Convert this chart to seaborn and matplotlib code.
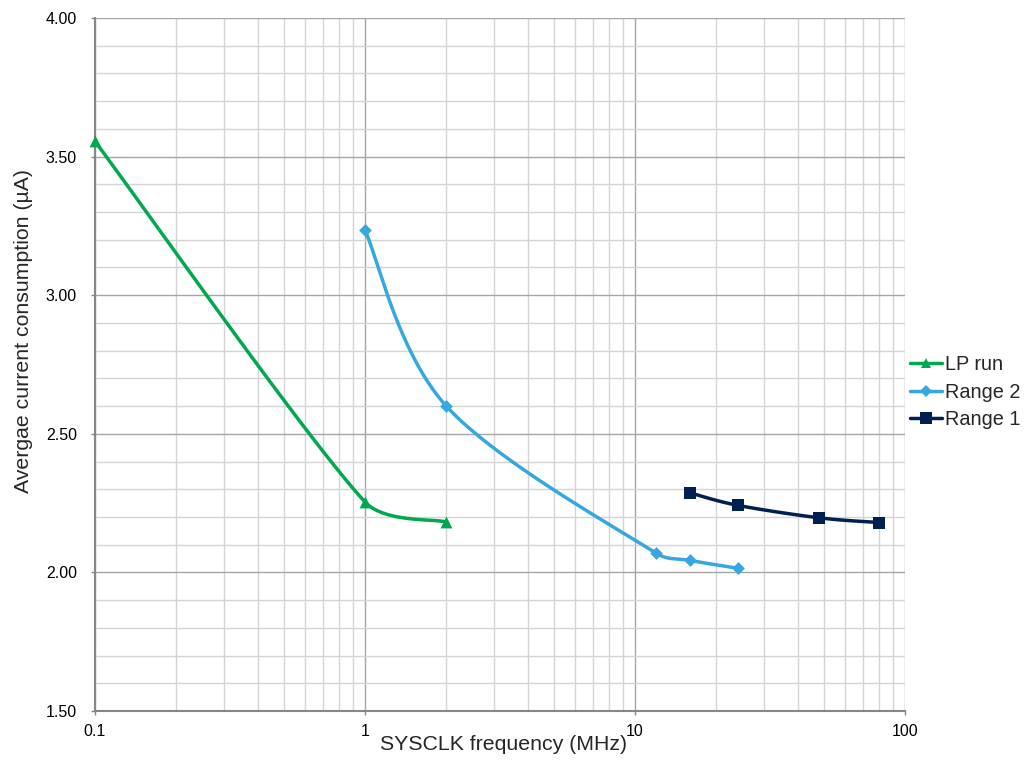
import numpy as np
import pandas as pd
import matplotlib
matplotlib.use("Agg")
import matplotlib.pyplot as plt
from matplotlib.lines import Line2D
from matplotlib.ticker import LogLocator, FixedLocator, NullFormatter, FuncFormatter
import seaborn as sns

# ---- data ----
lp_x = [0.1, 1, 2]
lp_y = [3.555, 2.254, 2.182]
r2_x = [1, 2, 12, 16, 24]
r2_y = [3.234, 2.60, 2.069, 2.043, 2.015]
r1_x = [16, 24, 48, 80]
r1_y = [2.287, 2.242, 2.197, 2.180]
series_names = ["LP run", "Range 2", "Range 1"]
colors = ["#00a84f", "#35a8e0", "#002052"]
markers = ["^", "D", "s"]
msizes = [8.5, 6.5, 9.0]
x_ticks = [0.1, 1, 10, 100]
y_ticks = [1.5, 2.0, 2.5, 3.0, 3.5, 4.0]

sns.set_theme(style="white")
plt.rcParams['font.family'] = ['Liberation Sans', 'DejaVu Sans']

fig = plt.figure(figsize=(10.27, 7.6), dpi=100)
ax = fig.add_axes([95/1027, 49/760, 810/1027, 693/760])
ax.set_xscale("log")
ax.set_xlim(0.1, 100)
ax.set_ylim(1.5, 4.0)

# scaling to pixel-like space for Excel-style smoothing
SX = 270.0   # px per decade
SY = 554.4   # px per unit


def smooth(xs, ys, n=40):
    u = np.log10(np.asarray(xs, float)) * SX
    v = np.asarray(ys, float) * SY
    P = np.column_stack([u, v])
    out = []
    m = len(P)
    for i in range(m - 1):
        p0 = P[i - 1] if i > 0 else P[i]
        p1 = P[i]
        p2 = P[i + 1]
        p3 = P[i + 2] if i + 2 < m else P[i + 1]
        d12 = np.linalg.norm(p2 - p1)
        d02 = np.linalg.norm(p2 - p0)
        d13 = np.linalg.norm(p3 - p1)
        f1 = min(1 / 6.0, d12 / (2 * d02)) if d02 > 0 else 0
        f2 = min(1 / 6.0, d12 / (2 * d13)) if d13 > 0 else 0
        c1 = p1 + (p2 - p0) * f1
        c2 = p2 - (p3 - p1) * f2
        t = np.linspace(0, 1, n)[:, None]
        seg = ((1 - t) ** 3) * p1 + 3 * ((1 - t) ** 2) * t * c1 + 3 * (1 - t) * t ** 2 * c2 + t ** 3 * p2
        if i > 0:
            seg = seg[1:]
        out.append(seg)
    S = np.vstack(out)
    return 10 ** (S[:, 0] / SX), S[:, 1] / SY


all_x = [lp_x, r2_x, r1_x]
all_y = [lp_y, r2_y, r1_y]

# grid
ax.xaxis.set_major_locator(FixedLocator(x_ticks))
ax.xaxis.set_minor_locator(LogLocator(base=10, subs=np.arange(2, 10)))
ax.yaxis.set_major_locator(FixedLocator(y_ticks))
ax.yaxis.set_minor_locator(FixedLocator(np.round(np.arange(1.5, 4.01, 0.1), 2)))
ax.xaxis.set_minor_formatter(NullFormatter())
ax.xaxis.set_major_formatter(FuncFormatter(lambda v, p: f"{v:g}"))
ax.yaxis.set_major_formatter(FuncFormatter(lambda v, p: f"{v:.2f}"))
ax.grid(True, which="minor", color="#d4d4d4", linewidth=1.0)
ax.grid(True, which="major", color="#a6a6a6", linewidth=1.0)
ax.set_axisbelow(True)

for name, xs, ys, c, mk, ms in zip(series_names, all_x, all_y, colors, markers, msizes):
    sx, sy = smooth(xs, ys)
    df = pd.DataFrame({"x": sx, "y": sy})
    sns.lineplot(data=df, x="x", y="y", ax=ax, color=c, linewidth=2.5, sort=False,
                 estimator=None, zorder=3)
    dpt = pd.DataFrame({"x": xs, "y": ys})
    sns.scatterplot(data=dpt, x="x", y="y", ax=ax, color=c, marker=mk, s=ms ** 2,
                    edgecolor=c, linewidth=0, zorder=4, clip_on=False)

for side in ["top", "right"]:
    ax.spines[side].set_visible(False)
for side in ["left", "bottom"]:
    ax.spines[side].set_color("#868686")
    ax.spines[side].set_linewidth(1.5)

ax.tick_params(axis="both", which="major", direction="out", length=3, width=1,
               color="#868686", labelsize=11.5, labelcolor="#000000",
               bottom=True, left=True)
ax.tick_params(axis="x", which="major", pad=6.5)
ax.tick_params(axis="y", which="major", pad=10)
ax.tick_params(axis="both", which="minor", length=0)

ax.set_xlabel("SYSCLK frequency (MHz)", fontsize=15.3, va="top")
ax.set_ylabel("Avergae current consumption (µA)", fontsize=15.3)
ax.xaxis.set_label_coords(0.504, -0.034)
ax.yaxis.set_label_coords(-0.077, 0.548)

handles = [Line2D([0], [0], color=c, linewidth=2.5, marker=mk, markersize=ms * 0.9,
                  markeredgewidth=0)
           for c, mk, ms in zip(colors, markers, msizes)]
leg = fig.legend(handles, series_names, loc="center left",
                 bbox_to_anchor=(902/1027, 1 - 392/760), frameon=False,
                 fontsize=14.3, handlelength=1.6, handletextpad=0.15,
                 labelspacing=0.42, borderaxespad=0)

fig.savefig("out.png", dpi=100)
